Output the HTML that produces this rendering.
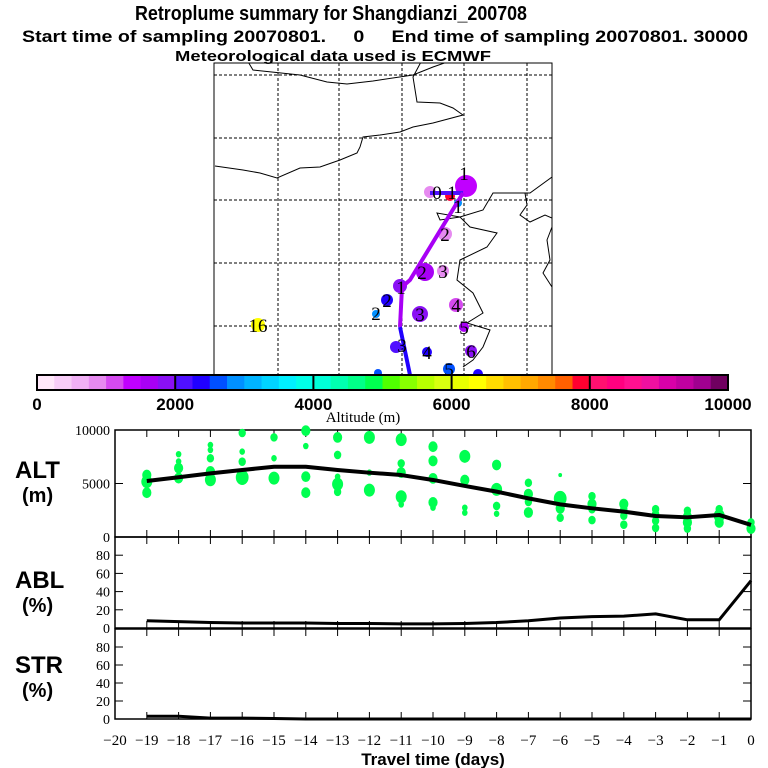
<!DOCTYPE html>
<html><head><meta charset="utf-8"><style>
html,body{margin:0;padding:0;background:#fff;width:768px;height:768px;overflow:hidden}
svg{display:block}
text{font-family:"Liberation Sans",sans-serif}
.b{font-weight:bold}
.s{font-family:"Liberation Serif",serif}
</style></head><body>
<svg id="c" width="768" height="768" viewBox="0 0 768 768">
<text x="331" y="20" text-anchor="middle" class="b" font-size="20" textLength="392" lengthAdjust="spacingAndGlyphs">Retroplume summary for Shangdianzi_200708</text>
<text x="385" y="42" text-anchor="middle" class="b" font-size="17" textLength="726" lengthAdjust="spacingAndGlyphs" xml:space="preserve">Start time of sampling 20070801.     0     End time of sampling 20070801. 30000</text>
<g id="map"></g>
<text x="333" y="61" text-anchor="middle" class="b" font-size="15" textLength="316" lengthAdjust="spacingAndGlyphs">Meteorological data used is ECMWF</text>
<g id="cbar"></g>
<text x="363" y="422" text-anchor="middle" class="s" font-size="15">Altitude (m)</text>
<g id="panels"></g>
<text x="15" y="478" class="b" font-size="24">ALT</text>
<text x="22" y="502" class="b" font-size="20">(m)</text>
<text x="15" y="588" class="b" font-size="24">ABL</text>
<text x="22" y="612" class="b" font-size="20">(%)</text>
<text x="15" y="673" class="b" font-size="24">STR</text>
<text x="22" y="697" class="b" font-size="20">(%)</text>
<text x="433" y="765" text-anchor="middle" class="b" font-size="17">Travel time (days)</text>
</svg>
<script>
var days=[-19,-18,-17,-16,-15,-14,-13,-12,-11,-10,-9,-8,-7,-6,-5,-4,-3,-2,-1,0];
var altMean=[5230,5580,5950,6260,6570,6570,6260,6010,5790,5330,4770,4240,3610,3050,2680,2370,1960,1840,2060,1130];
var ablPct=[8,7,6,5.5,5.5,5.5,5,5,4.5,4.5,5,6,8,11,12.5,13,15.5,9,9,52];
var strPct=[3,3,1,1,0.5,0,0,0,0,0,0,0,0,0,0,0,0,0,0,0];
var dotDays=[-19,-19,-19,-18,-18,-18,-18,-17,-17,-17,-17,-17,-16,-16,-16,-16,-15,-15,-15,-14,-14,-14,-14,-13,-13,-13,-13,-13,-12,-12,-12,-11,-11,-11,-11,-11,-10,-10,-10,-10,-10,-9,-9,-9,-9,-8,-8,-8,-8,-7,-7,-7,-7,-6,-6,-6,-6,-5,-5,-5,-5,-4,-4,-4,-4,-3,-3,-3,-3,-2,-2,-2,-2,-1,-1,-1,0,0];
var dotAlts=[5790,5170,4140,7740,7060,6440,5510,8600,8130,7360,6130,5350,9720,7980,7040,5570,9310,7360,5500,9940,8500,5640,4140,9310,7670,5640,4940,4220,9310,6020,4380,9100,6880,6020,3760,3040,8440,7110,5480,3230,2740,7540,5320,2740,2270,6730,4450,2900,2170,5070,4010,3280,2290,5790,3600,2670,1800,3820,3080,2600,1580,3080,2600,1990,1150,2600,2140,1520,850,2450,1890,1360,790,2600,1990,1360,1360,790];
var dotSizes=[4,5,4,2,2,4,4,2,2,3,4,5,3,2,3,6,3,2,5,4,2,4,4,4,3,2,5,3,5,2,5,5,3,4,5,2,4,4,4,4,2,5,4,2,2,4,5,3,2,3,4,3,4,1,6,4,3,3,4,3,3,4,3,3,3,3,3,3,3,3,4,4,3,3,5,4,3,4];
var altTicks=[0,5000,10000];
var pctTicks=[0,20,40,60,80];
var xTickLabels=[-20,-19,-18,-17,-16,-15,-14,-13,-12,-11,-10,-9,-8,-7,-6,-5,-4,-3,-2,-1,0];
var cbarColors=["#ffe8fa","#f7cdf7","#f0b0f5","#e68af0","#d54af0","#c000ff","#a800f5","#8a10f5","#5010ff","#2000ff","#0050ff","#0090ff","#00b4ff","#00d4ff","#00f0ff","#00ffe8","#00ffd8","#00ffb0","#00ff88","#00ff50","#50ff00","#88ff00","#b8ff00","#d8ff10","#e8ff00","#ffff00","#ffdc00","#ffc000","#ffa800","#ff8a00","#ff6000","#ff0030","#ff1070","#ff0080","#ff1090","#f010a0","#d800a8","#c000a0","#a00090","#700060"];
var cbarLabels=[0,2000,4000,6000,8000,10000];

var NS="http://www.w3.org/2000/svg";
function mk(p,t,a){var e=document.createElementNS(NS,t);for(var k in a)e.setAttribute(k,a[k]);p.appendChild(e);return e;}
var X0=115,X1=751;
function xs(d){return X1+d*(X1-X0)/20;}

var cb=document.getElementById('cbar');
var cx0=37,cx1=728,cy0=375,cy1=390;
function cbx(v){return cx0+v/10000*(cx1-cx0);}
cbarColors.forEach(function(c,i){
  var r=mk(cb,'rect',{x:cbx(i*250),y:cy0,width:cbx((i+1)*250)-cbx(i*250)+0.5,height:cy1-cy0,fill:c});
  
  
});
mk(cb,'rect',{x:cx0,y:cy0,width:cx1-cx0,height:cy1-cy0,fill:'none',stroke:'#000','stroke-width':2});
cbarLabels.forEach(function(v){
  if(v>0&&v<10000)mk(cb,'line',{x1:cbx(v),x2:cbx(v),y1:cy0,y2:cy1,stroke:'#000','stroke-width':2});
  var t=mk(cb,'text',{x:cbx(v),y:410,'text-anchor':'middle','class':'b','font-size':17});
  t.textContent=v;
  
  
});

var m=document.getElementById('map');
var clip=mk(m,'clipPath',{id:'mc'});mk(clip,'rect',{x:214,y:63,width:338,height:312});
var mg=mk(m,'g',{'clip-path':'url(#mc)'});
[278,339,402,464,527].forEach(function(x){mk(mg,'line',{x1:x,x2:x,y1:63,y2:375,stroke:'#000','stroke-dasharray':'3,2','stroke-width':1});});
[75,138,200,263,326].forEach(function(y){mk(mg,'line',{x1:214,x2:552,y1:y,y2:y,stroke:'#000','stroke-dasharray':'3,2','stroke-width':1});});
var coasts=["247,60 253,70 300,75 327,82 347,84 373,81 413,75 433,67 453,60",
"422,60 413,77 417,102 440,103 453,108 463,115 433,123 413,127 400,132 380,135 363,137 360,147 357,153 340,160 320,167 300,168 277,178 260,173 243,170 215,166",
"552,177 530,193 493,193 483,210 460,217 437,213 440,220 460,217 470,227 497,233 487,247 460,260 457,280 473,293 483,313 467,323 490,330 483,347 473,360 463,367",
"552,227 547,240 550,260 543,273 552,287","525,193 527,205 520,215 530,222 545,215 552,218"];
coasts.forEach(function(p){var l=mk(mg,'polyline',{points:p,fill:'none',stroke:'#000','stroke-width':1});});
var circ=[[466,186,11,'#c000ff'],[430,192,6,'#e68af0'],[450,196,5,'#ff0030'],[458,203,4,'#0090ff'],[445,234,7,'#e68af0'],[425,272,9,'#a800f5'],[443,271,6,'#e68af0'],[400,286,7,'#8a10f5'],[387,300,6,'#2000ff'],[376,314,4,'#0090ff'],[420,314,8,'#8a10f5'],[456,305,7,'#d54af0'],[464,327,5,'#a800f5'],[258,325,7,'#ffff00'],[396,347,6,'#5010ff'],[427,352,5,'#2000ff'],[471,351,6,'#8a10f5'],[449,369,6,'#0050ff'],[478,374,5,'#2000ff'],[378,373,4,'#0050ff']];
circ.forEach(function(c){var e=mk(mg,'circle',{cx:c[0],cy:c[1],r:c[2],fill:c[3]});});
mk(mg,'line',{x1:430,y1:193,x2:463,y2:193,stroke:'#5010ff','stroke-width':4});
mk(mg,'polyline',{points:'463,193 410,280 402,287 400,327',fill:'none',stroke:'#a800f5','stroke-width':4});
mk(mg,'line',{x1:400,y1:327,x2:410,y2:375,stroke:'#2000ff','stroke-width':4});
var lbl=[[464,180,'1'],[437,199,'0'],[452,199,'1'],[458,213,'1'],[445,241,'2'],[422,279,'2'],[443,278,'3'],[401,294,'1'],[387,307,'2'],[376,320,'2'],[420,321,'3'],[456,312,'4'],[464,334,'5'],[258,332,'16'],[402,352,'3'],[427,359,'4'],[471,358,'6'],[449,376,'5']];
lbl.forEach(function(l){var t=mk(mg,'text',{x:l[0],y:l[1],'text-anchor':'middle','class':'s','font-size':19});t.textContent=l[2];});
mk(m,'rect',{x:214,y:63,width:338,height:312,fill:'none',stroke:'#000','stroke-width':1});

var P=document.getElementById('panels');
function panel(name,top,bot,vmax,ticks,series,dots){
  var g=mk(P,'g',{});
  
  
  function ys(v){return bot-(v/vmax)*(bot-top);}
  mk(g,'rect',{x:X0,y:top,width:X1-X0,height:bot-top,fill:'none',stroke:'#000','stroke-width':1.5});
  for(var d=-19;d<0;d++){mk(g,'line',{x1:xs(d),x2:xs(d),y1:top,y2:top+7,stroke:'#000'});mk(g,'line',{x1:xs(d),x2:xs(d),y1:bot,y2:bot-7,stroke:'#000'});}
  ticks.forEach(function(v){
    mk(g,'line',{x1:X0,x2:X0+8,y1:ys(v),y2:ys(v),stroke:'#000'});
    mk(g,'line',{x1:X1,x2:X1-8,y1:ys(v),y2:ys(v),stroke:'#000'});
    var t=mk(g,'text',{x:X0-5,y:ys(v)+5,'text-anchor':'end','class':'s','font-size':14});
    t.textContent=v;
    
    
  });
  if(dots){dotDays.forEach(function(d,i){var c=mk(g,'ellipse',{cx:xs(d),cy:ys(dotAlts[i]),rx:dotSizes[i]*0.9+1,ry:dotSizes[i]*1.1+1,fill:'#00ff50'});});}
  var pts=days.map(function(d,i){return xs(d)+','+ys(series[i]);}).join(' ');
  var l=mk(g,'polyline',{points:pts,fill:'none',stroke:'#000','stroke-width':dots?4:3,'stroke-linejoin':'round'});
  
  
}
panel('alt-panel',430,537,10000,altTicks,altMean,true);
panel('abl-panel',537,628,100,pctTicks,ablPct,false);
panel('str-panel',629,719,100,pctTicks,strPct,false);
xTickLabels.forEach(function(v){
  var t=mk(P,'text',{x:xs(v),y:745,'text-anchor':'middle','class':'s','font-size':15});
  t.textContent=(v<0?'\u2212'+(-v):''+v);
  
  
});
</script>
</body></html>
